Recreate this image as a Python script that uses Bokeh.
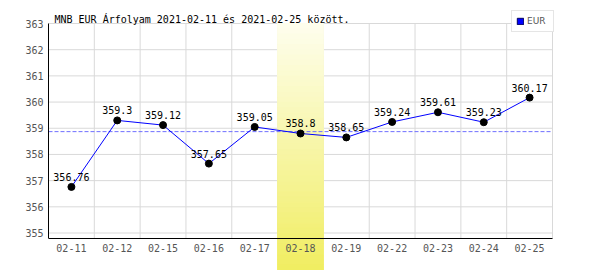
import numpy as np
from bokeh.plotting import figure
from bokeh.models import Range1d, FixedTicker, Label, Legend
from bokeh.core.properties import value
from bokeh.embed import file_html
from bokeh.resources import INLINE

# ---- data ----
dates = ["02-11", "02-12", "02-15", "02-16", "02-17", "02-18",
         "02-19", "02-22", "02-23", "02-24", "02-25"]
rates = [356.76, 359.3, 359.12, 357.65, 359.05, 358.8,
         358.65, 359.24, 359.61, 359.23, 360.17]
rate_labels = [str(v) for v in rates]
highlight_date = "02-18"
y_ticks = [355, 356, 357, 358, 359, 360, 361, 362, 363]
series_name = "EUR"
title_text = "MNB EUR Árfolyam 2021-02-11 és 2021-02-25 között."

# ---- layout (pixels) ----
W, H = 600, 270
LEFT = 48            # left edge of plotting area
PLOT_W = 504         # width of plotting area
TOP_PX = 23          # pixel row of the top gridline
AXIS_PX = 238        # pixel row of the x axis
n = len(dates)
slot_px = PLOT_W / n
y_top_val = y_ticks[-1]
axis_val = 354.79
px_per_unit = (AXIS_PX - TOP_PX) / (y_top_val - axis_val)
y_range_hi = y_top_val + TOP_PX / px_per_unit
y_range_lo = axis_val - (H - AXIS_PX) / px_per_unit
x_range_hi = (W - LEFT) / slot_px

xs = list(np.arange(n) + 0.5)
mean_rate = float(np.mean(rates))

MONO = "DejaVu Sans Mono"
TICK_COLOR = "#555555"
GRID_COLOR = "#d9d9d9"

p = figure(width=W, height=H, output_backend="svg", toolbar_location=None,
           x_range=Range1d(0, x_range_hi), y_range=Range1d(y_range_lo, y_range_hi),
           min_border_left=LEFT, min_border_right=0,
           min_border_top=0, min_border_bottom=0)
p.background_fill_color = "white"
p.border_fill_color = "white"
p.outline_line_color = None
p.xgrid.visible = False
p.ygrid.visible = False

# grid lines (drawn from the tick arrays)
gx = list(range(1, n + 1))
p.segment(x0=gx, x1=gx, y0=[axis_val] * len(gx), y1=[y_top_val] * len(gx),
          line_color=GRID_COLOR, line_width=1)
p.segment(x0=[0] * len(y_ticks), x1=[n] * len(y_ticks), y0=y_ticks, y1=y_ticks,
          line_color=GRID_COLOR, line_width=1)

# highlight column with vertical gradient
hi = dates.index(highlight_date)
NB = 48
edges = np.linspace(y_top_val, y_range_lo - 0.2, NB + 1)
c_top = np.array([254, 254, 238])
c_bot = np.array([240, 237, 94])
colors = []
for k in range(NB):
    t = (k + 0.5) / NB
    c = (c_top * (1 - t) + c_bot * t).round().astype(int)
    colors.append("#%02x%02x%02x" % tuple(c))
p.quad(left=[hi] * NB, right=[hi + 1] * NB, top=list(edges[:-1]), bottom=list(edges[1:]),
       fill_color=colors, line_color=colors, line_width=1)

# mean line
p.segment(x0=[0], x1=[n], y0=[mean_rate], y1=[mean_rate],
          line_color="#6f6fff", line_width=1, line_dash="4 2")

# axes
p.xaxis.ticker = FixedTicker(ticks=xs)
p.xaxis.major_label_overrides = {x: d for x, d in zip(xs, dates)}
p.xaxis.fixed_location = axis_val
p.xaxis.bounds = (0, n)
p.yaxis.ticker = FixedTicker(ticks=y_ticks)
p.yaxis.bounds = (axis_val, y_top_val)
for ax in (p.xaxis, p.yaxis):
    ax.axis_line_color = "black"
    ax.axis_line_width = 1
    ax.major_tick_line_color = None
    ax.minor_tick_line_color = None
    ax.major_tick_in = 0
    ax.major_tick_out = 0
    ax.minor_tick_in = 0
    ax.minor_tick_out = 0
    ax.major_label_text_font = MONO
    ax.major_label_text_font_size = "10px"
    ax.major_label_text_color = TICK_COLOR
    ax.major_label_standoff = 5
    ax.level = "overlay"

# series
p.line(xs, rates, line_color="#0000ff", line_width=1)
p.scatter(xs, rates, size=7, fill_color="black", line_color="black")
p.text(x=xs, y=rates, text=rate_labels, text_font=value(MONO), text_font_size="10px",
       text_color="black", text_align="center", text_baseline="alphabetic", y_offset=-10)

# title
p.add_layout(Label(x=6 / slot_px, y=y_top_val + 4.3 / px_per_unit, text=title_text,
                   text_font=MONO, text_font_size="10px", text_color="black",
                   text_baseline="alphabetic", text_align="left"))

# legend (proxy renderer with a single non-drawn entry so the swatch gets its colours)
nan = float("nan")
leg_r = p.quad(left=[nan], right=[nan], top=[nan], bottom=[nan],
               fill_color="#0000ff", line_color="#000060")
legend = Legend(items=[(series_name, [leg_r])], location=(463, H - 32), margin=0,
                padding=4, spacing=0, glyph_width=8, glyph_height=8,
                label_standoff=3, label_width=22, label_height=12,
                label_text_font="DejaVu Sans", label_text_font_size="9px",
                label_text_color=TICK_COLOR,
                border_line_color="#cccccc", border_line_width=1,
                background_fill_color="white", background_fill_alpha=1.0)
p.add_layout(legend)

open("out.html", "w").write(file_html(p, INLINE))
